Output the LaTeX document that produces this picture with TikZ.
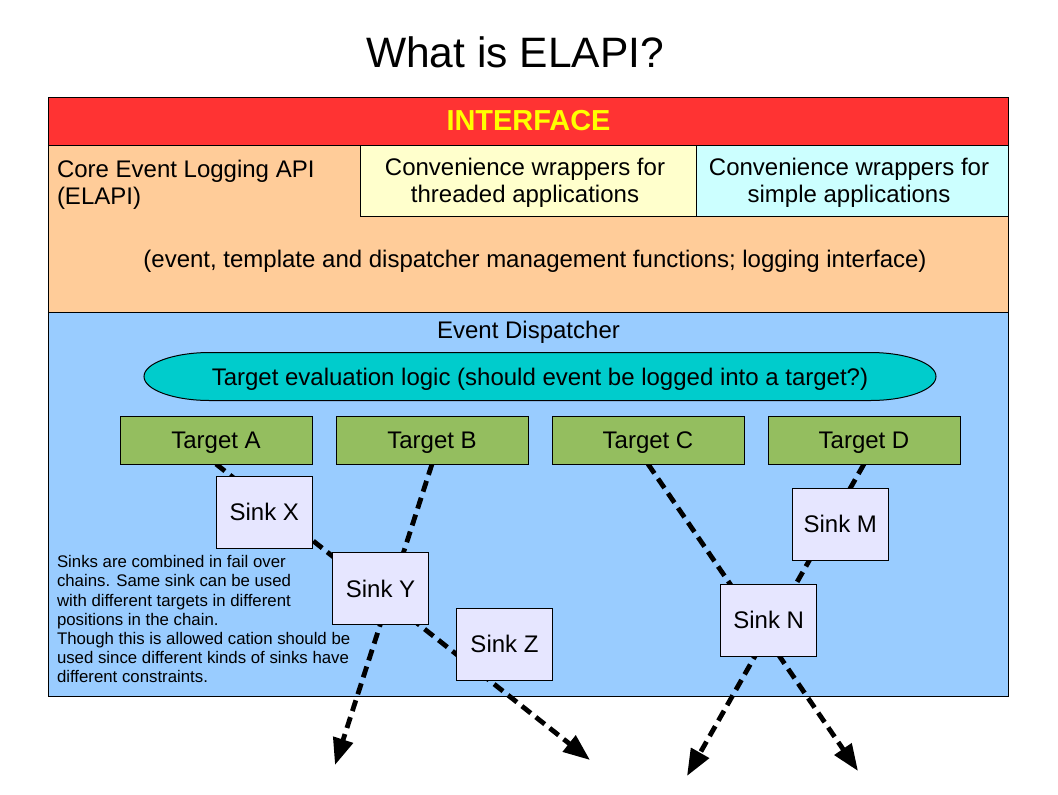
\documentclass[tikz,border=0pt]{standalone}
\usepackage{fontspec}
\setmainfont{Liberation Sans}
\usetikzlibrary{arrows.meta}
\pgfdeclarelayer{back}
\pgfdeclarelayer{lines}
\pgfsetlayers{back,lines,main}
\definecolor{hdrred}{HTML}{FF3333}
\definecolor{peach}{HTML}{FFCC99}
\definecolor{lyellow}{HTML}{FFFFCC}
\definecolor{lcyan}{HTML}{CCFFFF}
\definecolor{lblue}{HTML}{99CCFF}
\definecolor{tealfill}{HTML}{00CCCC}
\definecolor{tgreen}{HTML}{94BE5F}
\definecolor{sinkfill}{HTML}{E6E6FF}
\definecolor{hdryellow}{HTML}{FFFF00}
\begin{document}
\begin{tikzpicture}[x=0.75pt,y=-0.75pt,
  every node/.style={inner sep=0pt, outer sep=0pt},
  mainfont/.style={font=\fontsize{18}{19.9}\selectfont},
  area/.style={draw=black, line width=0.75pt},
  targetbox/.style={draw=black, line width=0.75pt, fill=tgreen, minimum width=144pt, minimum height=36pt, text height=12.9pt, text depth=0pt, mainfont},
  sinkbox/.style={draw=black, line width=0.75pt, fill=sinkfill, minimum width=72pt, minimum height=54pt, mainfont},
  link/.style={line width=3.6pt, dash pattern=on 8.5pt off 4.8pt, -{Triangle[length=20pt,width=15pt]}}
]
\useasboundingbox (0,0) rectangle (1058,794);

% areas
\begin{pgfonlayer}{back}
\fill[white] (0,0) rectangle (1058,794);
\filldraw[area, fill=hdrred] (48,97) rectangle (1008,145);
\filldraw[area, fill=peach] (48,145) rectangle (1008,312);
\filldraw[area, fill=lyellow] (360,145) rectangle (696,216);
\filldraw[area, fill=lcyan] (696,145) rectangle (1008,216);
\filldraw[area, fill=lblue] (48,312) rectangle (1008,696);
\end{pgfonlayer}

% title
\node[anchor=base, font=\fontsize{31.9}{38}\selectfont] (title) at (515,67) {What is ELAPI?};

% interface
\node[font=\fontsize{21.7}{25}\selectfont\bfseries, text=hdryellow] (iface) at (528.5,121) {INTERFACE};
\node[anchor=west, align=left, mainfont] (core) at (57,185) {Core Event Logging API\\(ELAPI)};
\node[align=center, mainfont] (thr) at (525,183) {Convenience wrappers for\\threaded applications};
\node[align=center, mainfont] (simp) at (849,183) {Convenience wrappers for\\simple applications};
\node[anchor=base, mainfont] (funcs) at (535,267) {(event, template and dispatcher management functions; logging interface)};

% dispatcher
\node[anchor=base, mainfont] (disp) at (528.5,338) {Event Dispatcher};
\filldraw[area, fill=tealfill] (210,352.5) -- (870,352.5)
  arc[start angle=-90, end angle=90, x radius=66, y radius=24] -- (210,400.5)
  arc[start angle=90, end angle=270, x radius=66, y radius=24] -- cycle;
\node[anchor=base, mainfont] (eval) at (540,385) {Target evaluation logic (should event be logged into a target?)};

% targets
\node[targetbox] (tA) at (216,440) {Target A};
\node[targetbox] (tB) at (432,440) {Target B};
\node[targetbox] (tC) at (648,440) {Target C};
\node[targetbox] (tD) at (864,440) {Target D};

% sinks
\node[sinkbox] (sX) at (264.3,512) {Sink X};
\node[sinkbox] (sY) at (380.5,588.5) {Sink Y};
\node[sinkbox] (sZ) at (504.5,644.3) {Sink Z};
\node[sinkbox] (sM) at (840.3,524.2) {Sink M};
\node[sinkbox] (sN) at (768.7,620.2) {Sink N};

% loose ends
\coordinate (eA) at (590,760);
\coordinate (eB) at (335,765);
\coordinate (eC) at (858,771);
\coordinate (eD) at (687,776);

\begin{pgfonlayer}{lines}
\draw[link] (tA.south) -- (eA);
\draw[link] (tB.south) -- (eB);
\draw[link] (tC.south) -- (eC);
\draw[link] (tD.south) -- (eD);
\end{pgfonlayer}

% note
\node[anchor=north west, align=left, font=\fontsize{12.6}{14.4}\selectfont] (note) at (57,555.5)
  {Sinks are combined in fail over\\chains. Same sink can be used\\with different targets in different\\positions in the chain.\\Though this is allowed cation should be\\used since different kinds of sinks have\\different constraints.};
\end{tikzpicture}
\end{document}
